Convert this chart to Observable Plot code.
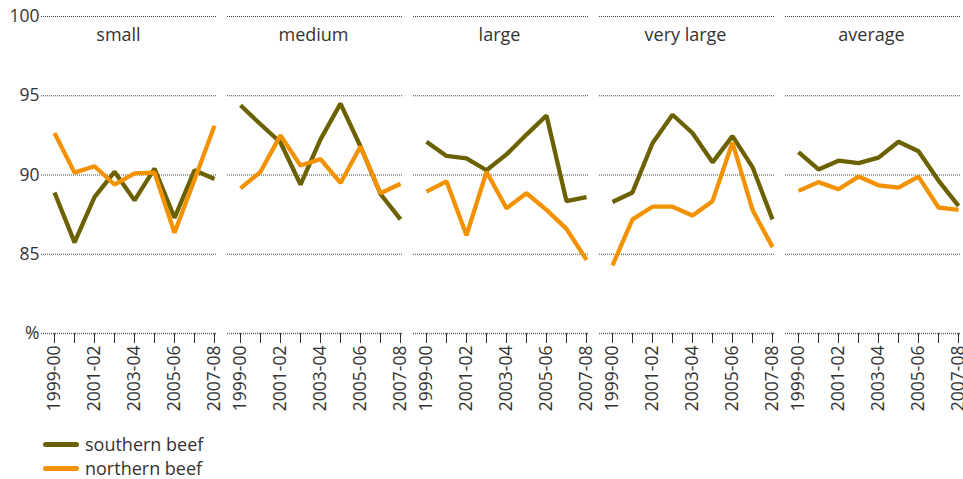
<!DOCTYPE html>
<html>
<head>
<meta charset="utf-8">
<script src="https://cdn.jsdelivr.net/npm/d3@7"></script>
<script src="https://cdn.jsdelivr.net/npm/@observablehq/plot@0.6"></script>
<style>
  body { margin: 0; background: #fff; font-family: "Open Sans", sans-serif; }
  #legend { position: relative; height: 59px; }
  .item { position: absolute; left: 43px; display: flex; align-items: center; font-size: 18px; color: #333; line-height: 24px; }
  .sw { width: 36px; height: 5px; border-radius: 3px; margin-right: 6px; }
</style>
</head>
<body>
<div id="chart"></div>
<div id="legend">
  <div class="item" style="top:12px"><span class="sw" style="background:#6b6100"></span>southern beef</div>
  <div class="item" style="top:36px"><span class="sw" style="background:#f39200"></span>northern beef</div>
</div>
<script>
const years = ["1999-00","2000-01","2001-02","2002-03","2003-04","2004-05","2005-06","2006-07","2007-08"];
const sizes = ["small","medium","large","very large","average"];
const seriesNames = ["southern beef","northern beef"];
const seriesColors = ["#6b6100","#f39200"];
const yTicks = [80,85,90,95,100];

const southern = {
  "small":      [88.9, 85.75, 88.6, 90.2, 88.4, 90.4, 87.3, 90.3, 89.75],
  "medium":     [94.4, 93.2, 92.05, 89.4, 92.25, 94.5, 91.8, 88.8, 87.2],
  "large":      [92.1, 91.2, 91.05, 90.3, 91.3, 92.55, 93.75, 88.35, 88.6],
  "very large": [88.3, 88.9, 92.0, 93.8, 92.65, 90.8, 92.45, 90.5, 87.2],
  "average":    [91.45, 90.35, 90.9, 90.75, 91.1, 92.1, 91.5, 89.65, 88.05]
};
const northern = {
  "small":      [92.65, 90.15, 90.55, 89.4, 90.1, 90.15, 86.35, 89.7, 93.1],
  "medium":     [89.15, 90.2, 92.5, 90.6, 91.0, 89.5, 91.8, 88.85, 89.45],
  "large":      [88.95, 89.6, 86.2, 90.2, 87.9, 88.85, 87.8, 86.6, 84.65],
  "very large": [84.3, 87.2, 88.0, 88.0, 87.45, 88.35, 92.05, 87.8, 85.45],
  "average":    [89.0, 89.55, 89.1, 89.9, 89.35, 89.2, 89.9, 87.95, 87.8]
};

const rows = [];
for (const s of sizes) {
  years.forEach((yr, i) => {
    rows.push({size: s, year: yr, series: seriesNames[0], value: southern[s][i]});
    rows.push({size: s, year: yr, series: seriesNames[1], value: northern[s][i]});
  });
}

const labelYears = years.filter((d, i) => i % 2 === 0);

const chart = Plot.plot({
  width: 963,
  height: 420,
  marginLeft: 40,
  marginRight: 1,
  marginTop: 16,
  marginBottom: 87,
  style: {fontFamily: "Open Sans, sans-serif", color: "#333", background: "#fff"},
  fx: {domain: sizes, paddingInner: 0.055, paddingOuter: 0, axis: null},
  x: {type: "point", domain: years, insetLeft: 13, insetRight: 3, padding: 0},
  y: {domain: [80, 100]},
  color: {domain: seriesNames, range: seriesColors},
  marks: [
    Plot.ruleY([85, 90, 95, 100], {stroke: "#444", strokeDasharray: "1,1", strokeWidth: 1}),
    Plot.ruleY([80], {stroke: "#666", strokeDasharray: "1,1", strokeWidth: 1.3}),
    Plot.axisY(yTicks, {
      label: null, tickSize: 0, tickPadding: 2, fontSize: 17.5, fill: "#333",
      tickFormat: d => d === 80 ? "%" : String(d)
    }),
    Plot.axisX(years, {
      label: null, tickSize: 10, tickPadding: 2, tickRotate: -90, fontSize: 17.5, fill: "#333", stroke: "#333",
      tickFormat: d => labelYears.includes(d) ? d : ""
    }),
    Plot.text(sizes.slice(1), {fx: d => d, text: d => d, frameAnchor: "top", dy: 12, dx: -2, fontSize: 18, fill: "#333"}),
    Plot.text(sizes.slice(0, 1), {fx: d => d, text: d => d, frameAnchor: "top", dy: 12, dx: -11, fontSize: 18, fill: "#333"}),
    Plot.line(rows, {
      fx: "size", x: "year", y: "value", z: "series", stroke: "series",
      strokeWidth: 4.3, strokeLinejoin: "miter", strokeLinecap: "butt"
    })
  ]
});
document.getElementById("chart").appendChild(chart);
</script>
</body>
</html>
